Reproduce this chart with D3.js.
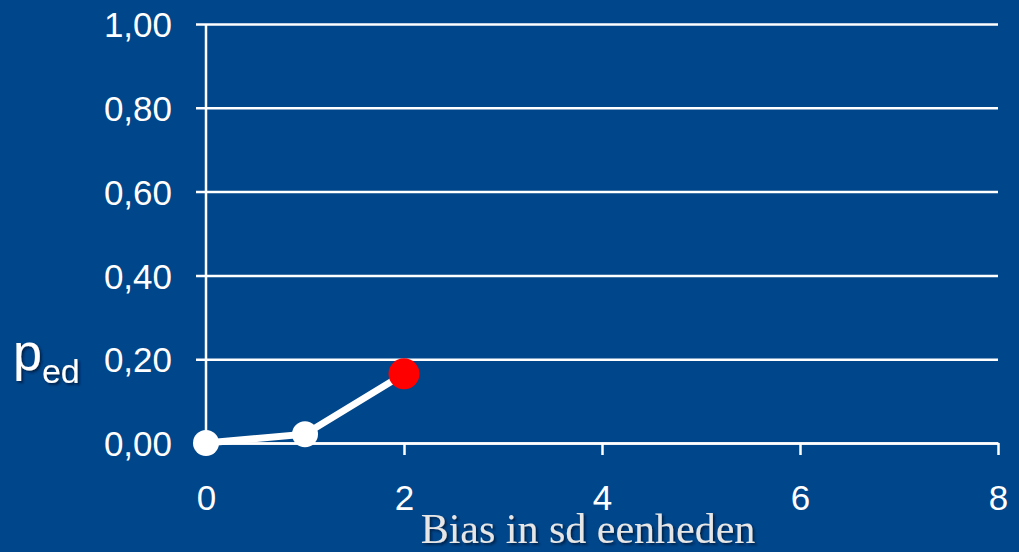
<!DOCTYPE html>
<html>
<head>
<meta charset="utf-8">
<script src="https://cdn.jsdelivr.net/npm/d3@7"></script>
<style>
  html, body { margin: 0; padding: 0; background: #00468A; }
  svg { display: block; }
</style>
</head>
<body>
<svg id="chart" width="1019" height="552"></svg>
<script>
// Detection probability versus bias (in sd units)
const biasValues = [0, 1, 2];
const pedValues = [0.00, 0.021, 0.165];
const xTickValues = [0, 2, 4, 6, 8];
const yTickValues = [0, 0.2, 0.4, 0.6, 0.8, 1.0];
const xTitle = "Bias in sd eenheden";

const svg = d3.select("#chart");
const W = 1019, H = 552;
const plotLeft = 206, plotRight = 998, plotTop = 24, plotBottom = 443;

svg.append("rect").attr("width", W).attr("height", H).attr("fill", "#00468A");

const defs = svg.append("defs");
const sh = defs.append("filter").attr("id", "shadow")
  .attr("x", "-10%").attr("y", "-10%").attr("width", "130%").attr("height", "140%");
sh.append("feDropShadow").attr("dx", 2).attr("dy", 2).attr("stdDeviation", 1.2)
  .attr("flood-color", "#001a3a").attr("flood-opacity", 0.8);

const x = d3.scaleLinear().domain([0, 8]).range([plotLeft, plotRight]);
const y = d3.scaleLinear().domain([0, 1]).range([plotBottom, plotTop]);

// Horizontal gridlines with y ticks
const yAxis = d3.axisLeft(y).tickValues(yTickValues)
  .tickSize(-(plotRight - plotLeft)).tickSizeOuter(0)
  .tickFormat(d => d3.format(".2f")(d).replace(".", ","));
const gy = svg.append("g").attr("transform", `translate(${plotLeft},0)`).call(yAxis);
gy.select(".domain").remove();
gy.selectAll(".tick line").attr("x1", -10).attr("x2", plotRight - plotLeft)
  .attr("stroke", "#ffffff").attr("stroke-width", 2.5);
gy.selectAll(".tick text").attr("x", -34).attr("dy", "0.36em")
  .attr("fill", "#ffffff").attr("font-family", "Liberation Sans, Arial, sans-serif")
  .attr("font-size", 35);

// Vertical axis line
svg.append("line").attr("x1", plotLeft).attr("x2", plotLeft).attr("y1", plotTop).attr("y2", plotBottom)
  .attr("stroke", "#ffffff").attr("stroke-width", 2.5);

// X axis
const xAxis = d3.axisBottom(x).tickValues(xTickValues).tickSize(12).tickSizeOuter(0);
const gx = svg.append("g").attr("transform", `translate(0,${plotBottom})`).call(xAxis);
gx.select(".domain").attr("stroke", "#ffffff").attr("stroke-width", 2.5);
gx.selectAll(".tick line").attr("stroke", "#ffffff").attr("stroke-width", 2.5);
gx.selectAll(".tick text").attr("y", 54).attr("dy", "0.36em")
  .attr("fill", "#ffffff").attr("font-family", "Liberation Sans, Arial, sans-serif")
  .attr("font-size", 35);

// Data line
const pts = biasValues.map((b, i) => [b, pedValues[i]]);
svg.append("path").datum(pts)
  .attr("d", d3.line().x(d => x(d[0])).y(d => y(d[1])))
  .attr("fill", "none").attr("stroke", "#ffffff").attr("stroke-width", 7);

// Markers: last point highlighted in red
svg.selectAll("circle.pt").data(pts).join("circle")
  .attr("class", "pt")
  .attr("cx", d => x(d[0])).attr("cy", d => y(d[1]))
  .attr("r", (d, i) => i === pts.length - 1 ? 15.5 : 13)
  .attr("fill", (d, i) => i === pts.length - 1 ? "#ff0000" : "#ffffff");

// Axis titles
svg.append("text").attr("x", 588).attr("y", 543).attr("text-anchor", "middle")
  .attr("font-family", "Liberation Serif, Times New Roman, serif").attr("font-size", 42)
  .attr("fill", "#e6e6e6").attr("filter", "url(#shadow)").text(xTitle);

const yl = svg.append("text").attr("x", 13).attr("y", 370)
  .attr("font-family", "Liberation Sans, Arial, sans-serif")
  .attr("fill", "#ffffff").attr("filter", "url(#shadow)");
yl.append("tspan").attr("font-size", 52).text("p");
yl.append("tspan").attr("font-size", 34).attr("dy", 13).text("ed");
</script>
</body>
</html>
